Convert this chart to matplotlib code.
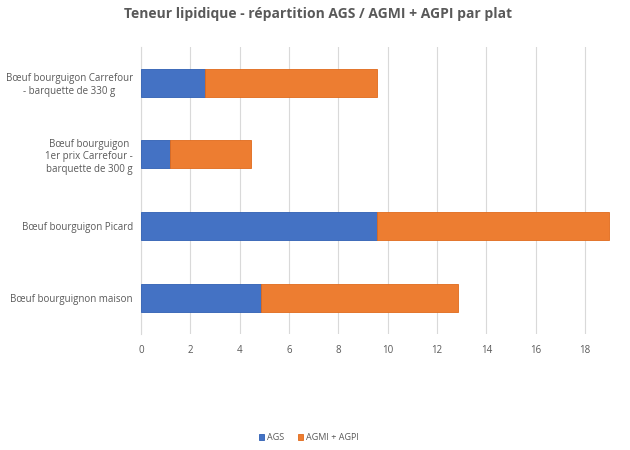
import numpy as np
import matplotlib.pyplot as plt

plt.rcParams['font.family'] = ['Open Sans', 'DejaVu Sans']

# -----------------------------
# Data
# -----------------------------
plats = [
    "Bœuf bourguigon Carrefour\n- barquette de 330 g",
    "Bœuf bourguigon\n1er prix Carrefour -\nbarquette de 300 g",
    "Bœuf bourguigon Picard",
    "Bœuf bourguignon maison",
]
ags = [2.6, 1.17, 9.55, 4.86]
agmi_agpi = [6.95, 3.28, 9.4, 7.97]

blue = "#4472C4"
orange = "#ED7D31"
grey = "#595959"

# -----------------------------
# Plot
# -----------------------------
fig = plt.figure(figsize=(6.3, 4.5), dpi=100)
ax = fig.add_axes([0.224, 0.258, 0.744, 0.638])

y = np.arange(len(plats))[::-1]
ax.barh(y, ags, height=0.39, color=blue, edgecolor="#2F5FB3",
        linewidth=0.6, label="AGS", zorder=3)
ax.barh(y, agmi_agpi, left=ags, height=0.39, color=orange,
        edgecolor="#E06A1B", linewidth=0.6, label="AGMI + AGPI", zorder=3)

ax.set_xlim(0, 19.0)
ax.set_ylim(-0.5, len(plats) - 0.5)
ax.set_xticks(np.arange(0, 19, 2))
ax.set_yticks(y)
ax.set_yticklabels(plats, fontsize=7, color=grey, multialignment="center")
ax.tick_params(axis="x", labelsize=7, colors=grey, length=0, pad=8)
ax.tick_params(axis="y", length=0, pad=6)
ax.grid(axis="x", color="#D9D9D9", linewidth=0.8, zorder=0)

for side in ["top", "right", "bottom"]:
    ax.spines[side].set_visible(False)
ax.spines["left"].set_color("#D9D9D9")

fig.suptitle("Teneur lipidique - répartition AGS / AGMI + AGPI par plat",
             x=0.505, y=0.985, fontsize=10, fontweight="bold", color=grey)

fig.legend(loc="lower center", bbox_to_anchor=(0.49, 0.0), ncol=2,
           frameon=False, fontsize=6.5, labelcolor=grey,
           handlelength=0.6, handleheight=0.6, handletextpad=0.3,
           columnspacing=1.5)

fig.savefig("out.png", dpi=100)
